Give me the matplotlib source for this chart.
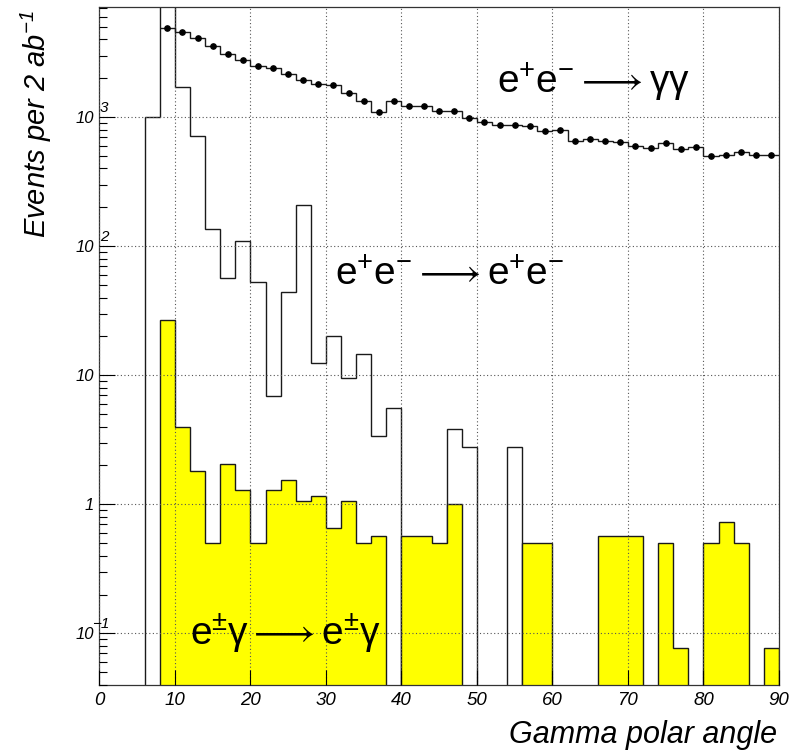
import numpy as np
import matplotlib.pyplot as plt
from matplotlib.ticker import FixedLocator, LogLocator, NullFormatter

# ---------------------------------------------------------
# data: 2-degree bins from 0 to 90 (45 bins)
# ---------------------------------------------------------
bin_edges = np.arange(0, 92, 2)

# e+e- -> gamma gamma, bins 8-10 ... 88-90
gg_values = [4900, 4530, 4070, 3530, 3060, 2780, 2510, 2400, 2140, 1940,
             1820, 1760, 1530, 1330, 1090, 1340, 1220, 1230, 1120, 1120,
             988, 910, 867, 870, 847, 783, 790, 655, 679, 652,
             636, 596, 575, 625, 565, 585, 501, 510, 535, 505, 507]

# e+e- -> e+e- (Bhabha), all 45 bins
ee_values = [0, 0, 0, 1000, 12000, 1720, 713, 136, 56.5, 109,
             52.4, 6.96, 43.8, 210, 12.4, 20.3, 9.48, 14.5, 3.37, 5.58,
             0, 0, 0, 3.81, 2.80, 0, 0, 2.80, 0, 0,
             0, 0, 0, 0, 0, 0, 0, 0, 0, 0,
             0, 0, 0, 0, 0]

# e gamma -> e gamma, all 45 bins
eg_values = [0, 0, 0, 0, 27.0, 4.0, 1.82, 0.50, 2.05, 1.30,
             0.50, 1.30, 1.53, 1.07, 1.15, 0.65, 1.07, 0.50, 0.57, 0,
             0.57, 0.57, 0.50, 1.0, 0, 0, 0, 0, 0.50, 0.50,
             0, 0, 0, 0.57, 0.57, 0.57, 0, 0.50, 0.077, 0,
             0.50, 0.73, 0.50, 0, 0.077]

x_ticks = [0, 10, 20, 30, 40, 50, 60, 70, 80, 90]
y_ticks = [0.1, 1, 10, 100, 1000]
y_tick_labels = ["10", "1", "10", "10", "10"]
y_tick_exps = ["-1", "", "", "2", "3"]

# ---------------------------------------------------------
# style
# ---------------------------------------------------------
plt.rcParams.update({
    "font.family": ["Liberation Sans", "DejaVu Sans"],
    "mathtext.fontset": "custom",
    "mathtext.rm": "Liberation Sans",
    "mathtext.it": "Liberation Sans:italic",
    "mathtext.fallback": "stixsans",
    "axes.linewidth": 0.9,
})

line_color = "#1a1a1a"
fill_color = "#ffff00"
grid_color = "#555555"
floor = 1e-3  # empty bins drawn down below the frame

fig = plt.figure(figsize=(7.92, 7.55), dpi=100)
ax = fig.add_axes([0.1255, 0.0927, 0.858, 0.898])
ax.set_yscale("log")

ee = np.array(ee_values, dtype=float)
eg = np.array(eg_values, dtype=float)
gg = np.array(gg_values, dtype=float)
centers = 0.5 * (bin_edges[:-1] + bin_edges[1:])

# Bhabha outline (bins 6..56)
ax.stairs(np.where(ee > 0, ee, floor)[3:28], bin_edges[3:29], baseline=floor,
          color=line_color, linewidth=1.0, zorder=1)

# e gamma filled histogram
ax.stairs(np.where(eg > 0, eg, floor)[4:], bin_edges[4:], baseline=floor, fill=True,
          facecolor=fill_color, edgecolor=line_color, linewidth=1.0, zorder=1.5)

# gamma gamma step + markers
ax.stairs(gg, bin_edges[4:], baseline=None, color=line_color, linewidth=1.0, zorder=3)
ax.plot(centers[4:], gg, "o", color="black", markersize=3.8, zorder=3.2)

# axes
ax.set_xlim(0, 90)
ax.set_ylim(10 ** -1.40, 10 ** 3.853)
ax.set_axisbelow(False)

ax.xaxis.set_major_locator(FixedLocator(x_ticks))
ax.set_xticklabels([str(t) for t in x_ticks], fontsize=13.5, style="italic")
ax.yaxis.set_major_locator(FixedLocator(y_ticks))
ax.yaxis.set_minor_locator(LogLocator(base=10, subs=np.arange(2, 10), numticks=20))
ax.yaxis.set_minor_formatter(NullFormatter())
ax.set_yticklabels(y_tick_labels, fontsize=12, style="italic")

ax.tick_params(axis="x", which="major", direction="in", length=11, width=0.8,
               top=False, pad=5)
ax.tick_params(axis="y", which="major", direction="in", length=11.5, width=0.8,
               right=False, pad=4)
ax.tick_params(axis="y", which="minor", direction="in", length=6, width=0.8, right=False)

ax.grid(True, which="major", color=grid_color, linewidth=0.8, linestyle=(0, (1, 2.2)))

for sp in ax.spines.values():
    sp.set_color("#333333")

# ROOT-style exponents sitting at the axis
for yv, ex in zip(y_ticks, y_tick_exps):
    if not ex:
        continue
    xpos = 0.08 if ex[0] != "-" else -0.95
    ax.text(xpos, yv * 10 ** 0.02, ex.replace("-", "\u2212"), fontsize=11, style="italic",
            ha="left", va="bottom", clip_on=False, zorder=6)

# process labels
ax.text(52.6, 1535, r"$\mathrm{e^{+}e^{-}\longrightarrow\gamma\gamma}$",
        fontsize=28, ha="left", va="baseline", zorder=6)
ax.text(31.2, 49.9, r"$\mathrm{e^{+}e^{-}\longrightarrow e^{+}e^{-}}$",
        fontsize=28, ha="left", va="baseline", zorder=6)
ax.text(12.0, 0.0807, r"$\mathrm{e^{\pm}\gamma\longrightarrow e^{\pm}\gamma}$",
        fontsize=28, ha="left", va="baseline", zorder=6)

# axis titles
fig.text(777 / 792, 1 - 735 / 755, "Gamma polar angle", fontsize=22, style="italic",
         ha="right", va="center")
fig.text(36 / 792, 1 - 10 / 755, r"Events per 2 ab$^{\mathregular{-1}}$", fontsize=21,
         style="italic", rotation=90, ha="center", va="top")

fig.savefig("out.png", dpi=100)
